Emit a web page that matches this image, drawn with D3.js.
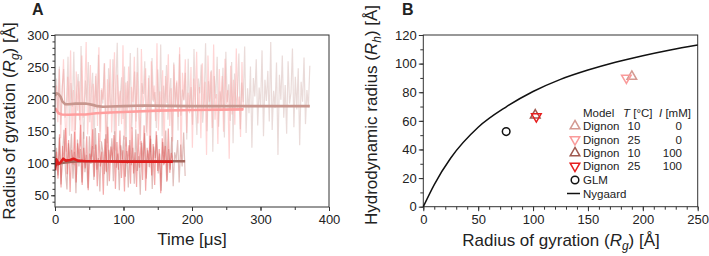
<!DOCTYPE html>
<html><head><meta charset="utf-8">
<script src="https://cdn.jsdelivr.net/npm/d3@7"></script>
<style>
body{margin:0;background:#fff;}
text{font-family:"Liberation Sans",Arial,sans-serif;fill:#222;}
</style></head>
<body><svg id="c" width="709" height="256"></svg>
<script>
// ---------- Panel A data: Rg time series (Å), evenly sampled from 0 to traceEnd ----------
const traceEnd = [372, 275, 190, 172]; // μs
const traceS1 = [205,232,178,251,160,219,247,171,198,266,143,225,188,274,152,210,239,167,283,181,
138,229,196,258,164,207,241,122,236,185,269,149,214,193,256,171,131,248,202,177,
262,145,219,288,158,203,234,169,251,126,228,187,272,154,199,243,165,280,192,136,
225,208,259,148,183,237,117,264,196,211,155,246,179,285,142,221,190,253,168,205,
233,109,257,188,226,151,270,174,215,198,241,137,263,186,219,160,278,192,144,232,
209,254,163,197,287,150,228,181,245,118,236,201,266,157,212,189,249,140,274,195,
223,166,258,131,240,187,209,271,153,226,195,282,147,217,178,251,124,233,204,262,
159,218,188,276,142,230,197,244,165,289,152,213,186,257,113,238,199,268,171,222,
146,259,193,210,279,156,235,184,248,128,227,196,265,161,214,187,252];
const traceS2 = [188,221,164,247,139,206,262,173,118,235,191,276,150,214,97,243,182,228,126,268,
171,209,289,145,196,253,110,224,185,240,158,281,133,217,199,256,88,231,176,262,
148,205,273,120,238,190,213,161,284,137,226,181,251,104,219,195,266,154,242,172,
129,278,186,207,248,143,233,92,259,198,221,166,287,151,212,183,245,115,236,194,
270,158,217,134,254,188,229,172,281,101,241,199,262,147,210,178,250,124,232,191,
274,162,219,139,256,185,227,113,268,196,243,155,285,168,208,130,247,181,236,149,
263,192,214,107,252,176,230,160,279,186,204,141,258,183];
const traceS3 = [98,124,81,140,67,112,152,88,59,131,104,146,76,118,53,137,95,122,70,149,
86,113,61,142,99,127,74,155,90,108,56,134,117,83,145,65,121,102,139,72,
150,93,115,58,128,106,143,79,119,62,136,97,124,68,153,88,111,51,132,101,
147,76,120,94,138,60,126,108,144,84,115,57,133,99,151,73,122,90,141,64,
117,105,136,70,129,95,148,80];
const traceS4 = [90,118,76,145,62,127,101,155,83,136,55,121,98,149,70,131,108,160,66,124,
92,142,58,115,103,153,79,129,64,147,95,118,51,138,86,157,72,126,105,144,
60,133,90,151,77,120,56,141,99,128,68,156,84,117,63,146,93,135,74,159,
57,124,102,143,81,130,66,150,88,122,53,139,97,127,71,154,85,116,102];
// running averages
const avgT1 = [0,2,5,8,11,15,20,30,45,55,62,70,80,100,130,160,200,250,300,372];
const avgV1 = [205,209,208,204,196,192,192,193,193,191,189,188,188.5,189,190,189.5,189,189,189,189];
const avgT2 = [0,2,5,10,20,30,45,60,80,100,150,200,275];
const avgV2 = [186,183,178,176,175.5,176,176,178,179,180,182,183,184];
const avgT3 = [0,3,8,15,25,40,60,100,150,190];
const avgV3 = [97,98,100,101,102.5,103,103,103,103,103];
const avgT4 = [0,2,5,8,12,16,22,27,33,45,60,100,140,172];
const avgV4 = [89,106,99,101,107,104,105,107,104,103,103,102.5,102.5,102.5];

// ---------- Panel B data ----------
const bModel = ["Dignon","Dignon","Dignon","Dignon","GLM"];
const bTemp = ["10","25","10","25",""];
const bIon = ["0","0","100","100",""];
const bRg = [190,185,102,103,75.5];
const bRh = [91,90,64,63,52.5];
const nygRg = [0,10,25,50,75,100,125,150,175,200,225,250];
const nygRh = [0,15.5,34,55.5,69.5,80.5,89,95.5,101,105.5,109.5,113];

const lineCol = ["#c8968e","#ff9e9e","#a4665c","#e01e1e"];
const fuzzCol = ["#c9a09a","#ff9090","#b5655d","#e23434"];
const fuzzOp = [0.38,0.38,0.42,0.42];
const markCol = ["#d49a92","#fa9b9b","#a05a50","#e61e1e"];

const svg = d3.select("#c");
const axCol = "#333";

function styleAxis(g){ g.selectAll("path").attr("stroke",axCol); g.selectAll("line").attr("stroke",axCol); g.selectAll("text").attr("font-size","13px").attr("fill","#222"); }

// ================= Panel A =================
const xA = d3.scaleLinear().domain([0,400]).range([55,329]);
const yA = d3.scaleLinear().domain([31.7,300]).range([207,35]);
const gA = svg.append("g");
const traces = [traceS1,traceS2,traceS3,traceS4];
svg.append("clipPath").attr("id","ca").append("rect").attr("x",55).attr("y",35).attr("width",274).attr("height",172);
const plotA = gA.append("g").attr("clip-path","url(#ca)");
traces.forEach((tr,k)=>{
  const n = tr.length, end = traceEnd[k];
  const pts = tr.map((v,i)=>[end*i/(n-1), v]);
  plotA.append("path").attr("d", d3.line().x(d=>xA(d[0])).y(d=>yA(d[1]))(pts))
    .attr("fill","none").attr("stroke",fuzzCol[k]).attr("stroke-width",1.2).attr("opacity",fuzzOp[k]);
});
[[avgT1,avgV1],[avgT2,avgV2],[avgT3,avgV3],[avgT4,avgV4]].forEach(([t,v],k)=>{
  plotA.append("path").attr("d", d3.line().x((d,i)=>xA(t[i])).y((d,i)=>yA(v[i]))(t))
    .attr("fill","none").attr("stroke",lineCol[k]).attr("stroke-width",2.6).attr("stroke-linejoin","round");
});
gA.append("rect").attr("x",55).attr("y",35).attr("width",274).attr("height",172).attr("fill","none").attr("stroke",axCol);
const xTicksA = [0,100,200,300,400];
const yTicksA = [50,100,150,200,250,300];
gA.append("g").attr("transform","translate(0,207)").call(d3.axisBottom(xA).tickValues(d3.range(0,401,50)).tickSize(3).tickFormat("")).call(styleAxis);
gA.append("g").attr("transform","translate(0,207)").call(d3.axisBottom(xA).tickValues(xTicksA).tickSize(4).tickPadding(4)).call(styleAxis);
gA.append("g").attr("transform","translate(55,0)").call(d3.axisLeft(yA).tickValues(d3.range(40,301,10)).tickSize(2.5).tickFormat("")).call(styleAxis);
gA.append("g").attr("transform","translate(55,0)").call(d3.axisLeft(yA).tickValues(yTicksA).tickSize(4).tickPadding(2)).call(styleAxis);
gA.selectAll(".domain").attr("d",null);
svg.append("text").attr("x",192).attr("y",245).attr("text-anchor","middle").attr("font-size","17px").text("Time [μs]");
const tA = svg.append("text").attr("transform","translate(15,121) rotate(-90)").attr("text-anchor","middle").attr("font-size","17px");
tA.append("tspan").text("Radius of gyration (");
tA.append("tspan").attr("font-style","italic").text("R");
tA.append("tspan").attr("font-style","italic").attr("font-size","12px").attr("dy",4).text("g");
tA.append("tspan").attr("dy",-4).text(") [Å]");
svg.append("text").attr("x",32).attr("y",15).attr("font-size","16px").attr("font-weight","bold").text("A");

// ================= Panel B =================
const xB = d3.scaleLinear().domain([0,250]).range([423.3,697.7]);
const yB = d3.scaleLinear().domain([0,120]).range([206.7,35]);
const gB = svg.append("g");
gB.append("rect").attr("x",423.3).attr("y",35).attr("width",274.4).attr("height",171.7).attr("fill","none").attr("stroke",axCol);
gB.append("g").attr("transform","translate(0,206.7)").call(d3.axisBottom(xB).tickValues(d3.range(0,251,10)).tickSize(3).tickFormat("")).call(styleAxis);
gB.append("g").attr("transform","translate(0,206.7)").call(d3.axisBottom(xB).tickValues([0,50,100,150,200,250]).tickSize(4.5).tickPadding(4)).call(styleAxis);
gB.append("g").attr("transform","translate(423.3,0)").call(d3.axisLeft(yB).tickValues(d3.range(0,121,10)).tickSize(3).tickFormat("")).call(styleAxis);
gB.append("g").attr("transform","translate(423.3,0)").call(d3.axisLeft(yB).tickValues(d3.range(0,121,20)).tickSize(4.5).tickPadding(2)).call(styleAxis);
gB.selectAll(".domain").attr("d",null);
gB.append("path").attr("d", d3.line().curve(d3.curveMonotoneX).x((d,i)=>xB(nygRg[i])).y((d,i)=>yB(nygRh[i]))(nygRg))
  .attr("fill","none").attr("stroke","#111").attr("stroke-width",1.5);
const tri = d3.symbol().type(d3.symbolTriangle).size(40);
function marker(g,k,x,y){
  if(k<4){
    g.append("path").attr("d",tri()).attr("transform",`translate(${x},${y}) rotate(${k%2===1?180:0})`)
      .attr("fill","none").attr("stroke",markCol[k]).attr("stroke-width",1.5);
  } else {
    g.append("circle").attr("cx",x).attr("cy",y).attr("r",3.8).attr("fill","none").attr("stroke","#111").attr("stroke-width",1.5);
  }
}
bRg.forEach((r,k)=>marker(gB,k,xB(r),yB(bRh[k])));
const lg = svg.append("g");
const rowY = [126,139.5,153,166,180];
lg.append("text").attr("x",583).attr("y",117).attr("font-size","11.5px").text("Model");
const hT = lg.append("text").attr("x",623).attr("y",117).attr("font-size","11.5px");
hT.append("tspan").attr("font-style","italic").text("T"); hT.append("tspan").text(" [°C]");
const hI = lg.append("text").attr("x",659).attr("y",117).attr("font-size","11.5px");
hI.append("tspan").attr("font-style","italic").text("I"); hI.append("tspan").text(" [mM]");
bModel.forEach((m,k)=>{
  marker(lg,k,575,rowY[k]);
  lg.append("text").attr("x",583).attr("y",rowY[k]+4).attr("font-size","11.5px").text(m);
  lg.append("text").attr("x",634).attr("y",rowY[k]+4).attr("text-anchor","middle").attr("font-size","11.5px").text(bTemp[k]);
  lg.append("text").attr("x",682).attr("y",rowY[k]+4).attr("text-anchor","end").attr("font-size","11.5px").text(bIon[k]);
});
lg.append("line").attr("x1",567).attr("x2",580).attr("y1",193.5).attr("y2",193.5).attr("stroke","#111").attr("stroke-width",1.5);
lg.append("text").attr("x",583).attr("y",197.5).attr("font-size","11.5px").text("Nygaard");
const tBx = svg.append("text").attr("x",561).attr("y",246).attr("text-anchor","middle").attr("font-size","17px");
tBx.append("tspan").text("Radius of gyration (");
tBx.append("tspan").attr("font-style","italic").text("R");
tBx.append("tspan").attr("font-style","italic").attr("font-size","12px").attr("dy",4).text("g");
tBx.append("tspan").attr("dy",-4).text(") [Å]");
const tBy = svg.append("text").attr("transform","translate(377,115) rotate(-90)").attr("text-anchor","middle").attr("font-size","17px");
tBy.append("tspan").text("Hydrodynamic radius (");
tBy.append("tspan").attr("font-style","italic").text("R");
tBy.append("tspan").attr("font-style","italic").attr("font-size","12px").attr("dy",4).text("h");
tBy.append("tspan").attr("dy",-4).text(") [Å]");
svg.append("text").attr("x",402).attr("y",15).attr("font-size","16px").attr("font-weight","bold").text("B");
</script></body></html>
